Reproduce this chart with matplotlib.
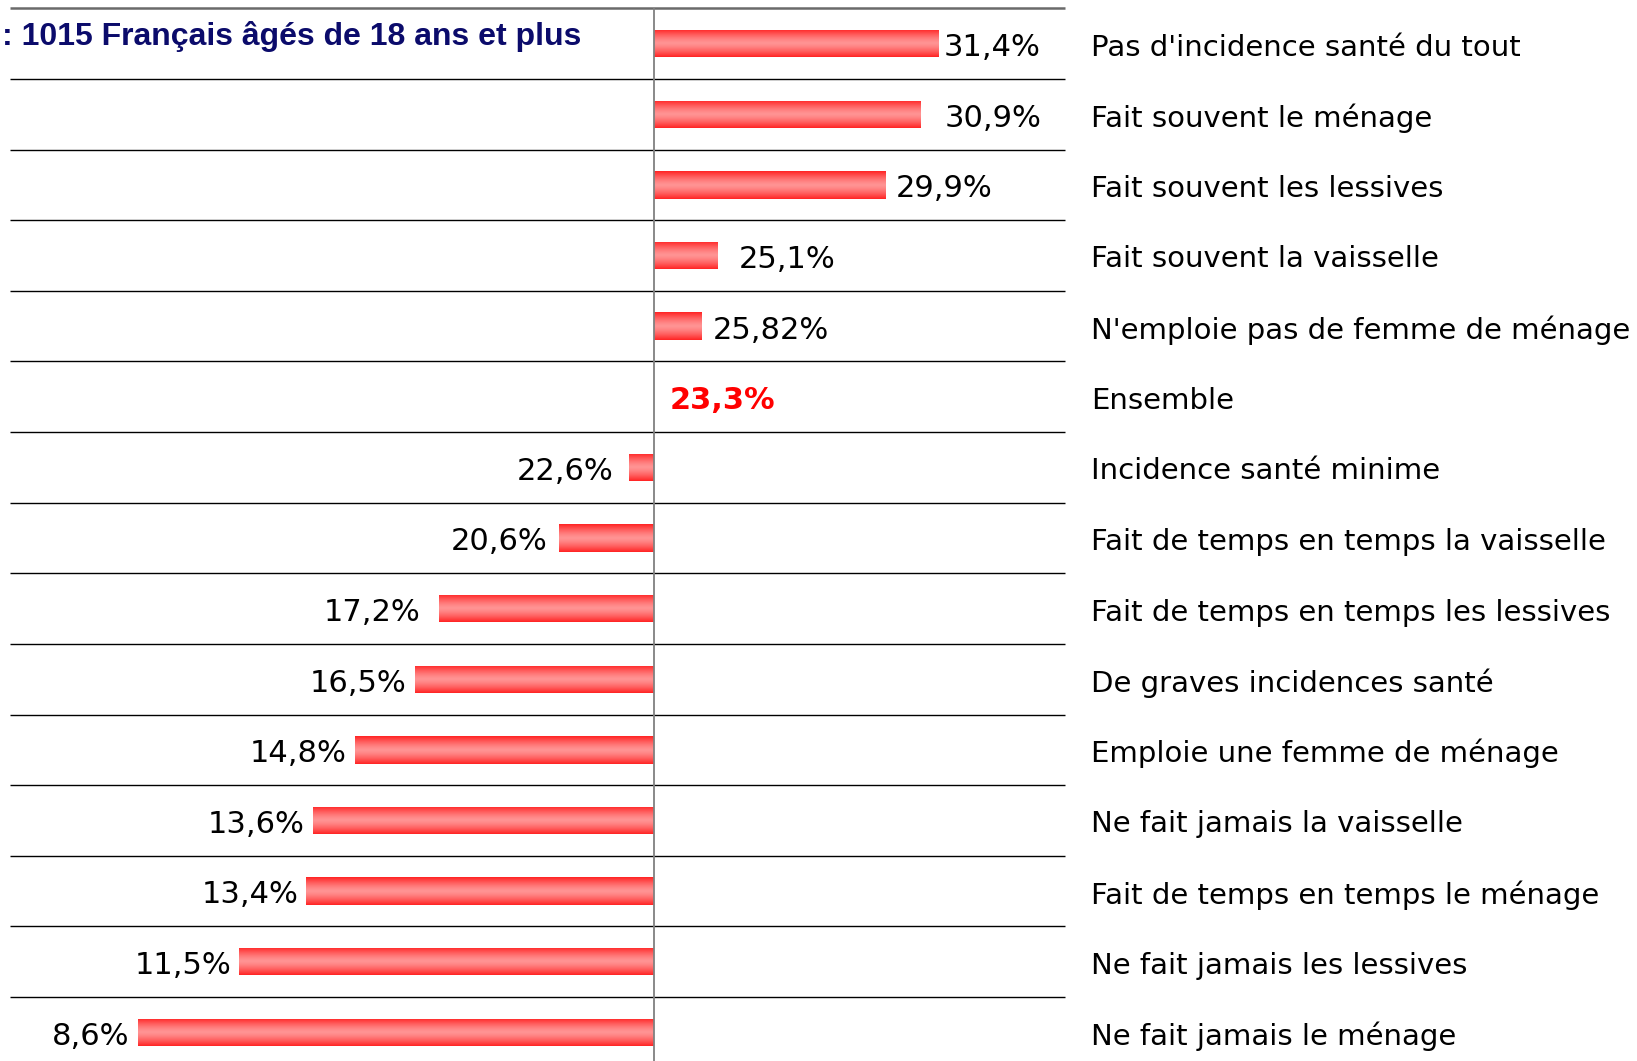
import numpy as np
import matplotlib
matplotlib.use("Agg")
import matplotlib.pyplot as plt
from matplotlib.colors import to_rgb

# ---------------- data ----------------
categories = [
    "Pas d'incidence santé du tout",
    "Fait souvent le ménage",
    "Fait souvent les lessives",
    "Fait souvent la vaisselle",
    "N'emploie pas de femme de ménage",
    "Ensemble",
    "Incidence santé minime",
    "Fait de temps en temps la vaisselle",
    "Fait de temps en temps les lessives",
    "De graves incidences santé",
    "Emploie une femme de ménage",
    "Ne fait jamais la vaisselle",
    "Fait de temps en temps le ménage",
    "Ne fait jamais les lessives",
    "Ne fait jamais le ménage",
]
bar_values = [31.4, 30.9, 29.9, 25.1, 24.64, 23.3, 22.6, 20.6, 17.2, 16.5,
              14.8, 13.6, 13.4, 11.5, 8.6]
value_labels = ["31,4%", "30,9%", "29,9%", "25,1%", "25,82%", "23,3%", "22,6%",
                "20,6%", "17,2%", "16,5%", "14,8%", "13,6%", "13,4%", "11,5%", "8,6%"]
baseline = 23.3
subtitle = ": 1015 Français âgés de 18 ans et plus"

# label gap from bar end (pixels) - layout only
label_gap_px = [6, 24, 10, 22, 12.5, 16, 16, 11, 19, 8.5, 8.5, 8.5, 7.5, 7.5, 8.5]

# ---------------- layout ----------------
W, H, DPI = 1637, 1061, 100
fig = plt.figure(figsize=(W / DPI, H / DPI), dpi=DPI)
ax = fig.add_axes([0, 0, 1, 1])

zero_px, px_per_unit = 653.6, 35.1
top_px, row_px = 8.35, 70.62
text_dy = -2.8  # points, vertical nudge of texts


def xd(px):
    return baseline + (px - zero_px) / px_per_unit


n = len(categories)
y = np.arange(n)
ax.set_xlim(xd(0), xd(W))
ax.set_ylim(-0.5 + (H - top_px) / row_px, -0.5 - top_px / row_px)
ax.axis("off")

# grid lines
ax.hlines(np.arange(1, n + 1) - 0.5, xd(10.4), xd(1065), color="black", lw=1.0, zorder=1)
ax.hlines([-0.5], xd(10.4), xd(1065), color="#6a6a6a", lw=1.8, zorder=1)

# bars
widths = [v - baseline for v in bar_values]
bars = ax.barh(y, widths, left=baseline, height=0.388, color="#ff3030",
               edgecolor="none", zorder=2)

# gradient fill for each bar
red = np.array(to_rgb("#ff2424"))
pink = np.array(to_rgb("#ff9494"))
t = np.linspace(0, 1, 64)
wgt = 1 - np.abs(2 * t - 1) ** 1.4
grad = (red[None, :] * (1 - wgt[:, None]) + pink[None, :] * wgt[:, None])[:, None, :]
for p in bars:
    x0, y0 = p.get_x(), p.get_y()
    w, h = p.get_width(), p.get_height()
    if abs(w) < 1e-9:
        continue
    xa, xb = min(x0, x0 + w), max(x0, x0 + w)
    im = ax.imshow(grad, extent=[xa, xb, y0 + h, y0], aspect="auto",
                   interpolation="bilinear", zorder=3)
    im.set_clip_path(p)

ax.set_xlim(xd(0), xd(W))
ax.set_ylim(-0.5 + (H - top_px) / row_px, -0.5 - top_px / row_px)

# zero line
ax.vlines(baseline, -0.5, n + 0.5, color="#808080", lw=1.3, zorder=4)

# value labels
for i, (v, lab, gap) in enumerate(zip(bar_values, value_labels, label_gap_px)):
    off = gap * 72 / DPI
    if abs(v - baseline) < 1e-9:
        ax.annotate(lab, (baseline, i), xytext=(off, text_dy), textcoords="offset points",
                    ha="left", va="center", fontsize=22, fontweight="bold",
                    color="#ff0000", family="DejaVu Sans")
    elif v > baseline:
        ax.annotate(lab, (v, i), xytext=(off, text_dy), textcoords="offset points",
                    ha="left", va="center", fontsize=22, color="black",
                    family="DejaVu Sans")
    else:
        ax.annotate(lab, (v, i), xytext=(-off, text_dy), textcoords="offset points",
                    ha="right", va="center", fontsize=22, color="black",
                    family="DejaVu Sans")

# category labels
for i, cat in enumerate(categories):
    ax.annotate(cat, (xd(1091), i), xytext=(0, text_dy), textcoords="offset points",
                ha="left", va="center", fontsize=21, color="black",
                family="DejaVu Sans")

# subtitle (cut on the left in the original)
fig.text(2 / W, 1 - 45 / H, subtitle, ha="left", va="baseline",
         fontsize=23, fontweight="bold", color="#0b0b6b",
         family="Liberation Sans")

fig.savefig("out.png", dpi=DPI)
